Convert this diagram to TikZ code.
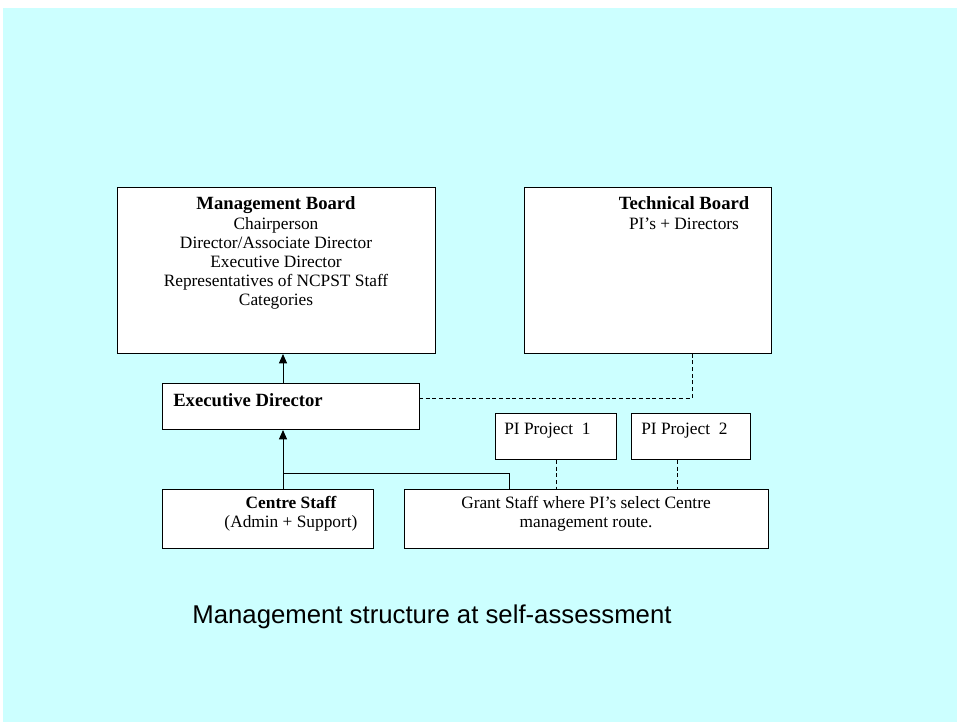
\documentclass[tikz,border=0pt]{standalone}
\usepackage{fontspec}
\setmainfont{Liberation Serif}
\newfontfamily\capfont{Liberation Sans}
\usetikzlibrary{arrows.meta}
\definecolor{bgcyan}{HTML}{CCFFFF}
\begin{document}
\begin{tikzpicture}[x=0.75pt,y=-0.75pt,
  box/.style={draw=black, fill=white, line width=0.75pt, inner sep=0pt, anchor=north west},
  ttl/.style={inner sep=0pt, anchor=base, font=\fontsize{14pt}{15pt}\selectfont\bfseries},
  ln/.style={inner sep=0pt, anchor=base, font=\fontsize{13pt}{14.25pt}\selectfont},
  conn/.style={line width=0.75pt, draw=black},
  dconn/.style={line width=0.75pt, draw=black, dash pattern=on 3pt off 2pt},
  tip/.style={-{Triangle[width=6pt,length=7pt]}}]
\useasboundingbox (0,0) rectangle (957,722);
\fill[bgcyan] (3,8) rectangle (957,722);

% boxes
\node[box, minimum width=238.5pt, minimum height=124.5pt] (MB) at (117,187) {};
\node[box, minimum width=185.25pt, minimum height=124.5pt] (TB) at (524,187) {};
\node[box, minimum width=192.75pt, minimum height=34.5pt] (ED) at (162,383) {};
\node[box, minimum width=90.75pt, minimum height=34.5pt] (P1) at (495,413) {};
\node[box, minimum width=89.25pt, minimum height=34.5pt] (P2) at (631,413) {};
\node[box, minimum width=158.25pt, minimum height=44.25pt] (CS) at (162,489) {};
\node[box, minimum width=273pt, minimum height=44.25pt] (GS) at (404,489) {};

% texts
\node[ttl] (mb0) at (276,209) {Management Board};
\node[ln] (mb1) at (276,229) {Chairperson};
\node[ln] (mb2) at (276,248) {Director/Associate Director};
\node[ln] (mb3) at (276,267) {Executive Director};
\node[ln] (mb4) at (276,286) {Representatives of NCPST Staff};
\node[ln] (mb5) at (276,305) {Categories};

\node[ttl] (tb0) at (684,209) {Technical Board};
\node[ln] (tb1) at (684,229) {PI’s + Directors};

\node[ttl, anchor=base west] (ed0) at (173,406) {Executive Director};

\node[ln, anchor=base west] (p1t) at (504,434) {PI Project\ \ 1};
\node[ln, anchor=base west] (p2t) at (641,434) {PI Project\ \ 2};

\node[ln, font=\fontsize{13pt}{14.25pt}\selectfont\bfseries] (cs0) at (291,508) {Centre Staff};
\node[ln] (cs1) at (291,527) {(Admin + Support)};

\node[ln] (gs0) at (586,508) {Grant Staff where PI’s select Centre};
\node[ln] (gs1) at (586,527) {management route.};

\node[inner sep=0pt, anchor=base, font=\capfont\fontsize{19.3pt}{22pt}\selectfont] (cap) at (432,623) {Management structure at self-assessment};

% connectors
\coordinate (ax) at (283,0);
\coordinate (gx) at (509,0);
\coordinate (jn) at (283,473);
\coordinate (dd) at (419,398);
\coordinate (tx) at (692,0);
\coordinate (q1) at (556,0);
\coordinate (q2) at (677,0);

\draw[conn, tip] (ax |- ED.north) -- (ax |- MB.south);
\draw[conn, tip] (ax |- CS.north) -- (ax |- ED.south);
\draw[conn] (jn) -| (gx |- GS.north);
\draw[dconn] (dd) -| (tx |- TB.south);
\draw[dconn] (q1 |- P1.south) -- (q1 |- GS.north);
\draw[dconn] (q2 |- P2.south) -- (q2 |- GS.north);
\end{tikzpicture}
\end{document}
